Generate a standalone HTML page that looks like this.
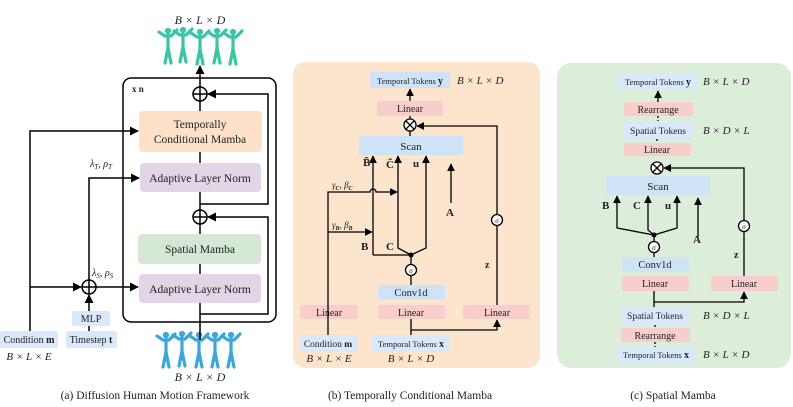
<!DOCTYPE html>
<html><head><meta charset="utf-8"><style>
html,body{margin:0;padding:0;background:#fff}
svg{display:block}
text{font-family:"Liberation Serif",serif;fill:#222}
.m{font-style:italic}
</style></head><body>
<svg width="793" height="407" viewBox="0 0 793 407" xmlns="http://www.w3.org/2000/svg">
<defs>
<marker id="ar" viewBox="0 0 10 10" refX="9" refY="5" markerWidth="6" markerHeight="6" orient="auto"><path d="M0,0 L10,5 L0,10 z" fill="#000"/></marker>
<g id="fig">
<circle cx="0" cy="-15" r="2.6"/>
<path d="M-9,-14 L-3,-10 L3,-10 L9,-16 M0,-11 L0,2 M0,2 L-3,17 M0,2 L3,17" fill="none" stroke-width="3.2" stroke-linecap="round"/>
</g>
</defs>

<!-- figures top -->
<g fill="#3cc4a6" stroke="#3cc4a6">
<use href="#fig" x="168" y="46"/><use href="#fig" x="183" y="45"/><use href="#fig" x="200" y="47"/><use href="#fig" x="217" y="46"/><use href="#fig" x="233" y="47"/>
</g>
<g fill="#3aa6da" stroke="#3aa6da">
<use href="#fig" x="166" y="350"/><use href="#fig" x="182" y="349"/><use href="#fig" x="199" y="350"/><use href="#fig" x="215" y="350"/><use href="#fig" x="231" y="350"/>
</g>
<text x="200" y="24" text-anchor="middle" class="m" font-size="12">B × L × D</text>
<text x="200" y="381" text-anchor="middle" class="m" font-size="12">B × L × D</text>

<!-- panel a -->
<rect x="123" y="78" width="153" height="244" rx="8" fill="none" stroke="#000" stroke-width="1.5"/>
<text x="132" y="92" font-size="9" font-weight="bold">x n</text>
<g stroke="#000" stroke-width="1.5" fill="none">
<line x1="200" y1="340" x2="200" y2="224"/>
<line x1="200" y1="210" x2="200" y2="101"/>
<line x1="200" y1="87" x2="200" y2="66" marker-end="url(#ar)"/>
<path d="M200,204 H268 V94 H208" marker-end="url(#ar)"/>
<path d="M200,314 H268 V217 H208" marker-end="url(#ar)"/>
<circle cx="200" cy="94" r="7"/><line x1="193" y1="94" x2="207" y2="94"/><line x1="200" y1="87" x2="200" y2="101"/>
<circle cx="200" cy="217" r="7"/><line x1="193" y1="217" x2="207" y2="217"/><line x1="200" y1="210" x2="200" y2="224"/>
<path d="M30,331 V131 H138" marker-end="url(#ar)"/>
<path d="M30,287 H81" marker-end="url(#ar)"/>
<path d="M96,287 H138" marker-end="url(#ar)"/>
<path d="M89,280 V178 H139" marker-end="url(#ar)"/>
<path d="M89,311 V295" marker-end="url(#ar)"/>
<line x1="89" y1="326" x2="89" y2="331"/>
<circle cx="89" cy="287" r="7"/><line x1="82" y1="287" x2="96" y2="287"/><line x1="89" y1="280" x2="89" y2="294"/>
</g>
<rect x="139" y="111" width="123" height="41" rx="4" fill="#fde2c9"/>
<text x="200" y="128" text-anchor="middle" font-size="11.5">Temporally</text>
<text x="200" y="143" text-anchor="middle" font-size="11.5">Conditional Mamba</text>
<rect x="140" y="163" width="121" height="29" rx="4" fill="#e1d5e7"/>
<text x="200" y="182" text-anchor="middle" font-size="11.5">Adaptive Layer Norm</text>
<rect x="138" y="234" width="123" height="30" rx="4" fill="#d5e8d4"/>
<text x="200" y="253" text-anchor="middle" font-size="11.5">Spatial Mamba</text>
<rect x="139" y="274" width="122" height="29" rx="4" fill="#e1d5e7"/>
<text x="200" y="293" text-anchor="middle" font-size="11.5">Adaptive Layer Norm</text>
<text x="90" y="167" class="m" font-size="10">λ<tspan font-size="7" dy="2">T</tspan><tspan dy="-2">, ρ</tspan><tspan font-size="7" dy="2">T</tspan></text>
<text x="92" y="276" class="m" font-size="10">λ<tspan font-size="7" dy="2">S</tspan><tspan dy="-2">, ρ</tspan><tspan font-size="7" dy="2">S</tspan></text>
<rect x="72" y="311" width="38" height="15" rx="2" fill="#dae8fc"/>
<text x="91" y="322" text-anchor="middle" font-size="10">MLP</text>
<rect x="66" y="331" width="51" height="17" rx="2" fill="#dae8fc"/>
<text x="91" y="343" text-anchor="middle" font-size="10">Timestep <tspan font-weight="bold">t</tspan></text>
<rect x="0" y="331" width="58" height="17" rx="2" fill="#dae8fc"/>
<text x="29" y="343" text-anchor="middle" font-size="10">Condition <tspan font-weight="bold">m</tspan></text>
<text x="29" y="360" text-anchor="middle" class="m" font-size="11">B × L × E</text>
<text x="155" y="399" text-anchor="middle" font-size="11.5">(a) Diffusion Human Motion Framework</text>

<!-- panel b -->
<rect x="293" y="62" width="247" height="306" rx="12" fill="#fde5cd"/>
<rect x="370" y="72" width="80" height="16" rx="2" fill="#cfe3f7"/>
<text x="410" y="84" text-anchor="middle" font-size="8.5">Temporal Tokens <tspan font-weight="bold" font-size="10">y</tspan></text>
<text x="457" y="84" class="m" font-size="11">B × L × D</text>
<rect x="377" y="101" width="66" height="15" rx="2" fill="#f8cecc"/>
<text x="410" y="112" text-anchor="middle" font-size="10">Linear</text>
<rect x="359" y="136" width="104" height="19" fill="#cfe3f7"/>
<text x="411" y="150" text-anchor="middle" font-size="11">Scan</text>
<rect x="378" y="285" width="67" height="14" fill="#cfe3f7"/>
<text x="411" y="296" text-anchor="middle" font-size="10.5">Conv1d</text>
<rect x="300" y="305" width="58" height="14" rx="2" fill="#f8cecc"/>
<text x="329" y="316" text-anchor="middle" font-size="10">Linear</text>
<rect x="378" y="305" width="67" height="14" rx="2" fill="#f8cecc"/>
<text x="411" y="316" text-anchor="middle" font-size="10">Linear</text>
<rect x="463" y="305" width="67" height="14" rx="2" fill="#f8cecc"/>
<text x="497" y="316" text-anchor="middle" font-size="10">Linear</text>
<rect x="299" y="335" width="59" height="17" rx="2" fill="#dae8fc"/>
<text x="328" y="347" text-anchor="middle" font-size="9.5">Condition <tspan font-weight="bold">m</tspan></text>
<rect x="372" y="335" width="78" height="17" rx="2" fill="#dae8fc"/>
<text x="411" y="347" text-anchor="middle" font-size="8.5">Temporal Tokens <tspan font-weight="bold" font-size="10">x</tspan></text>
<text x="329" y="362" text-anchor="middle" class="m" font-size="11">B × L × E</text>
<text x="411" y="362" text-anchor="middle" class="m" font-size="11">B × L × D</text>
<g stroke="#000" stroke-width="1.3" fill="none">
<line x1="410" y1="101" x2="410" y2="89" marker-end="url(#ar)"/>
<line x1="410" y1="131" x2="410" y2="116"/>
<line x1="410" y1="136" x2="410" y2="131"/>
<path d="M497,305 V126 H417" marker-end="url(#ar)"/>
<circle cx="410" cy="125" r="6" fill="#fff"/><path d="M406,121 L414,129 M414,121 L406,129"/>
<path d="M373,255 V156" marker-end="url(#ar)"/>
<path d="M373,255 H411"/>
<path d="M411,255 L398,248 V156" marker-end="url(#ar)"/>
<path d="M411,255 L426,248 V156" marker-end="url(#ar)"/>
<path d="M451,203 V164" marker-end="url(#ar)"/>
<line x1="411" y1="255" x2="411" y2="285"/>
<line x1="411" y1="319" x2="411" y2="335"/>
<path d="M411,330 H497 V320" marker-end="url(#ar)"/>
<path d="M328,335 V305 M328,305 V192 H370 A3,3 0 0 1 376,192 H397" marker-end="url(#ar)"/>
<path d="M328,232 H372" marker-end="url(#ar)"/>
<circle cx="411" cy="270" r="5.5" fill="#fff"/>
<circle cx="497" cy="220" r="5.5" fill="#fff"/>
</g>
<circle cx="411" cy="255" r="2.5" fill="#000"/>
<text x="411" y="273" text-anchor="middle" font-size="7" class="m">σ</text>
<text x="497" y="223" text-anchor="middle" font-size="7" class="m">σ</text>
<text x="363" y="166" font-size="11" font-weight="bold">B̃</text>
<text x="386" y="168" font-size="11" font-weight="bold">C̃</text>
<text x="413" y="167" font-size="11" font-weight="bold">u</text>
<text x="446" y="216" font-size="11" font-weight="bold">A</text>
<text x="361" y="250" font-size="11" font-weight="bold">B</text>
<text x="386" y="250" font-size="11" font-weight="bold">C</text>
<text x="485" y="268" font-size="10" font-weight="bold">z</text>
<text x="332" y="188" class="m" font-size="9">γ<tspan font-size="6" dy="2" font-weight="bold">C</tspan><tspan dy="-2">, β</tspan><tspan font-size="6" dy="2" font-weight="bold">C</tspan></text>
<text x="332" y="228" class="m" font-size="9">γ<tspan font-size="6" dy="2" font-weight="bold">B</tspan><tspan dy="-2">, β</tspan><tspan font-size="6" dy="2" font-weight="bold">B</tspan></text>
<text x="410" y="399" text-anchor="middle" font-size="11.5">(b) Temporally Conditional Mamba</text>

<!-- panel c -->
<rect x="557" y="63" width="234" height="305" rx="14" fill="#dcedd9"/>
<rect x="618" y="73" width="80" height="17" rx="2" fill="#dae8fc"/>
<text x="658" y="85" text-anchor="middle" font-size="8.5">Temporal Tokens <tspan font-weight="bold" font-size="10">y</tspan></text>
<text x="703" y="85" class="m" font-size="11">B × L × D</text>
<rect x="624" y="102" width="69" height="14" rx="2" fill="#f8cecc"/>
<text x="658" y="113" text-anchor="middle" font-size="10">Rearrange</text>
<rect x="623" y="121" width="70" height="18" rx="2" fill="#dae8fc"/>
<text x="658" y="134" text-anchor="middle" font-size="9.5">Spatial Tokens</text>
<text x="703" y="134" class="m" font-size="11">B × D × L</text>
<rect x="624" y="143" width="67" height="13" rx="2" fill="#f8cecc"/>
<text x="657" y="153" text-anchor="middle" font-size="10">Linear</text>
<rect x="606" y="176" width="104" height="19" fill="#cfe3f7"/>
<text x="658" y="190" text-anchor="middle" font-size="11">Scan</text>
<rect x="622" y="257" width="67" height="15" fill="#cfe3f7"/>
<text x="655" y="268" text-anchor="middle" font-size="10.5">Conv1d</text>
<rect x="622" y="276" width="67" height="15" rx="2" fill="#f8cecc"/>
<text x="655" y="287" text-anchor="middle" font-size="10">Linear</text>
<rect x="711" y="276" width="67" height="15" rx="2" fill="#f8cecc"/>
<text x="744" y="287" text-anchor="middle" font-size="10">Linear</text>
<rect x="621" y="307" width="69" height="18" rx="2" fill="#dae8fc"/>
<text x="655" y="319" text-anchor="middle" font-size="9.5">Spatial Tokens</text>
<text x="703" y="319" class="m" font-size="11">B × D × L</text>
<rect x="621" y="328" width="69" height="14" rx="2" fill="#f8cecc"/>
<text x="655" y="339" text-anchor="middle" font-size="10">Rearrange</text>
<rect x="617" y="347" width="79" height="16" rx="2" fill="#dae8fc"/>
<text x="656" y="358" text-anchor="middle" font-size="8.5">Temporal Tokens <tspan font-weight="bold" font-size="10">x</tspan></text>
<text x="703" y="358" class="m" font-size="11">B × L × D</text>
<g stroke="#000" stroke-width="1.3" fill="none">
<line x1="658" y1="102" x2="658" y2="91" marker-end="url(#ar)"/>
<line x1="658" y1="116" x2="658" y2="121" stroke-dasharray="2,2"/>
<line x1="657" y1="139" x2="657" y2="143" stroke-dasharray="2,2"/>
<path d="M744,276 V168 H664" marker-end="url(#ar)"/>
<circle cx="657" cy="168" r="6" fill="#fff"/><path d="M653,164 L661,172 M661,164 L653,172"/>
<path d="M654,235 L617,228 V196" marker-end="url(#ar)"/>
<path d="M654,235 L648,230 V196" marker-end="url(#ar)"/>
<path d="M654,235 L677,228 V196" marker-end="url(#ar)"/>
<path d="M698,237 V198" marker-end="url(#ar)"/>
<line x1="654" y1="235" x2="654" y2="257"/>
<line x1="654" y1="291" x2="654" y2="307"/>
<path d="M654,302 H744 V292" marker-end="url(#ar)"/>
<line x1="655" y1="325" x2="655" y2="328" stroke-dasharray="2,2"/>
<line x1="655" y1="342" x2="655" y2="347" stroke-dasharray="2,2"/>
<circle cx="654" cy="247" r="5.5" fill="#fff"/>
<circle cx="744" cy="226" r="5.5" fill="#fff"/>
</g>
<circle cx="654" cy="235" r="2.5" fill="#000"/>
<text x="654" y="250" text-anchor="middle" font-size="7" class="m">σ</text>
<text x="744" y="229" text-anchor="middle" font-size="7" class="m">σ</text>
<text x="602" y="209" font-size="11" font-weight="bold">B</text>
<text x="633" y="209" font-size="11" font-weight="bold">C</text>
<text x="665" y="209" font-size="11" font-weight="bold">u</text>
<text x="693" y="243" font-size="11" font-weight="bold">A</text>
<text x="734" y="258" font-size="10" font-weight="bold">z</text>
<text x="673" y="399" text-anchor="middle" font-size="11.5">(c) Spatial Mamba</text>
</svg>
</body></html>
